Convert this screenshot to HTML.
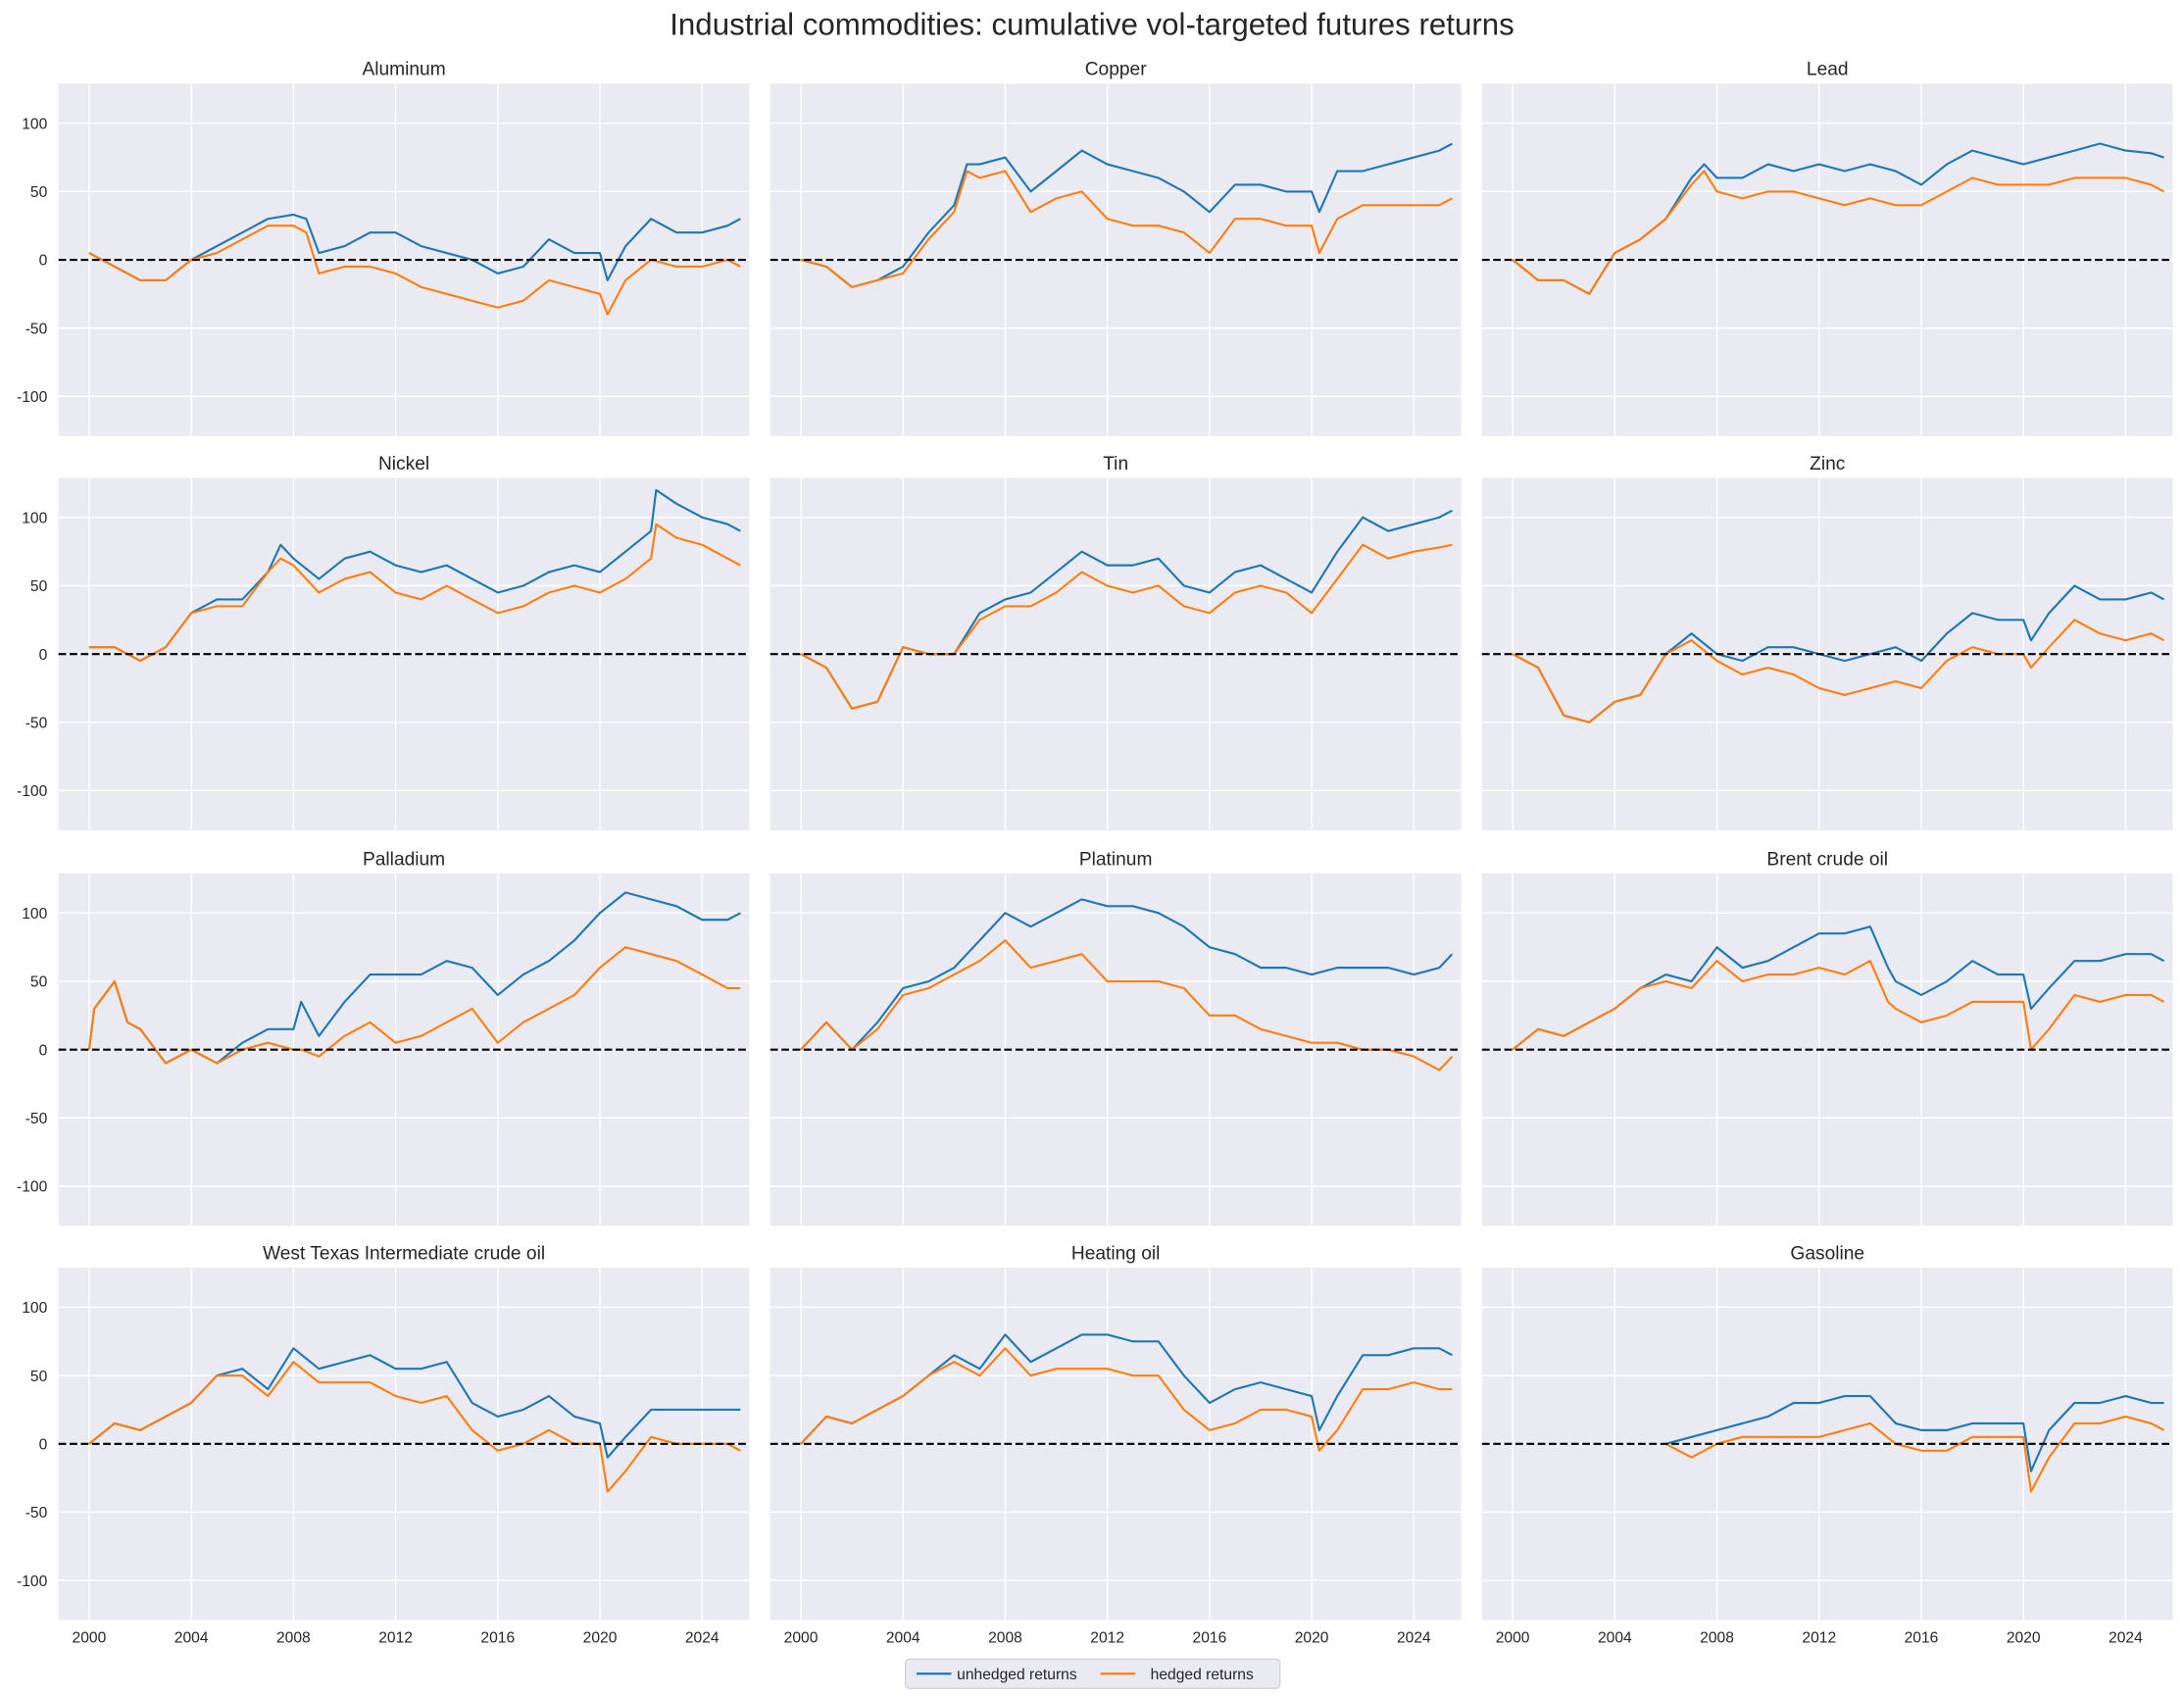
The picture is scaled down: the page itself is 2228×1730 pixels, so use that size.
<!DOCTYPE html>
<html><head><meta charset="utf-8"><style>
html,body{margin:0;padding:0;background:#fff;}
svg{display:block;font-family:"Liberation Sans",Arial,sans-serif;}
</style></head><body>
<svg id="chart" width="2228" height="1730" viewBox="0 0 1568 1217.5" xmlns="http://www.w3.org/2000/svg">
<text x="784" y="25" text-anchor="middle" font-size="22" fill="#262626">Industrial commodities: cumulative vol-targeted futures returns</text>
<g id="panels"></g>
<g>
<rect x="650" y="1191" width="269" height="21" rx="3" fill="#eaeaf2" stroke="#cccccc" stroke-width="0.8"/>
<line x1="658" y1="1201.5" x2="683" y2="1201.5" stroke="#1f77b4" stroke-width="1.5"/>
<text x="687" y="1205.5" font-size="11" fill="#262626">unhedged returns</text>
<line x1="790" y1="1201.5" x2="815" y2="1201.5" stroke="#ff7f0e" stroke-width="1.5"/>
<text x="826" y="1205.5" font-size="11" fill="#262626">hedged returns</text>
</g>
</svg>
<script>
const titles = ["Aluminum","Copper","Lead","Nickel","Tin","Zinc","Palladium","Platinum","Brent crude oil","West Texas Intermediate crude oil","Heating oil","Gasoline"];
const yearsAl = [2000,2001,2002,2003,2004,2005,2006,2007,2008,2008.5,2009,2010,2011,2012,2013,2014,2015,2016,2017,2018,2019,2020,2020.3,2021,2022,2023,2024,2025,2025.5];
const unhAl = [5,-5,-15,-15,0,10,20,30,33,30,5,10,20,20,10,5,0,-10,-5,15,5,5,-15,10,30,20,20,25,30];
const hedAl = [5,-5,-15,-15,0,5,15,25,25,20,-10,-5,-5,-10,-20,-25,-30,-35,-30,-15,-20,-25,-40,-15,0,-5,-5,0,-5];
const yearsCu = [2000,2001,2002,2003,2004,2005,2006,2006.5,2007,2008,2009,2010,2011,2012,2013,2014,2015,2016,2017,2018,2019,2020,2020.3,2021,2022,2023,2024,2025,2025.5];
const unhCu = [0,-5,-20,-15,-5,20,40,70,70,75,50,65,80,70,65,60,50,35,55,55,50,50,35,65,65,70,75,80,85];
const hedCu = [0,-5,-20,-15,-10,15,35,65,60,65,35,45,50,30,25,25,20,5,30,30,25,25,5,30,40,40,40,40,45];
const yearsPb = [2000,2001,2002,2003,2004,2005,2006,2007,2007.5,2008,2009,2010,2011,2012,2013,2014,2015,2016,2017,2018,2019,2020,2021,2022,2023,2024,2025,2025.5];
const unhPb = [0,-15,-15,-25,5,15,30,60,70,60,60,70,65,70,65,70,65,55,70,80,75,70,75,80,85,80,78,75];
const hedPb = [0,-15,-15,-25,5,15,30,55,65,50,45,50,50,45,40,45,40,40,50,60,55,55,55,60,60,60,55,50];
const yearsNi = [2000,2001,2002,2003,2004,2005,2006,2007,2007.5,2008,2009,2010,2011,2012,2013,2014,2015,2016,2017,2018,2019,2020,2021,2022,2022.2,2023,2024,2025,2025.5];
const unhNi = [5,5,-5,5,30,40,40,60,80,70,55,70,75,65,60,65,55,45,50,60,65,60,75,90,120,110,100,95,90];
const hedNi = [5,5,-5,5,30,35,35,60,70,65,45,55,60,45,40,50,40,30,35,45,50,45,55,70,95,85,80,70,65];
const yearsSn = [2000,2001,2002,2003,2004,2005,2006,2007,2008,2009,2010,2011,2012,2013,2014,2015,2016,2017,2018,2019,2020,2021,2022,2023,2024,2025,2025.5];
const unhSn = [0,-10,-40,-35,5,0,0,30,40,45,60,75,65,65,70,50,45,60,65,55,45,75,100,90,95,100,105];
const hedSn = [0,-10,-40,-35,5,0,0,25,35,35,45,60,50,45,50,35,30,45,50,45,30,55,80,70,75,78,80];
const yearsZn = [2000,2001,2002,2003,2004,2005,2006,2007,2008,2009,2010,2011,2012,2013,2014,2015,2016,2017,2018,2019,2020,2020.3,2021,2022,2023,2024,2025,2025.5];
const unhZn = [0,-10,-45,-50,-35,-30,0,15,0,-5,5,5,0,-5,0,5,-5,15,30,25,25,10,30,50,40,40,45,40];
const hedZn = [0,-10,-45,-50,-35,-30,0,10,-5,-15,-10,-15,-25,-30,-25,-20,-25,-5,5,0,0,-10,5,25,15,10,15,10];
const yearsPd = [2000,2000.2,2001,2001.5,2002,2003,2004,2005,2006,2007,2008,2008.3,2009,2010,2011,2012,2013,2014,2015,2016,2017,2018,2019,2020,2021,2022,2023,2024,2025,2025.5];
const unhPd = [0,30,50,20,15,-10,0,-10,5,15,15,35,10,35,55,55,55,65,60,40,55,65,80,100,115,110,105,95,95,100];
const hedPd = [0,30,50,20,15,-10,0,-10,0,5,0,0,-5,10,20,5,10,20,30,5,20,30,40,60,75,70,65,55,45,45];
const yearsPt = [2000,2001,2002,2003,2004,2005,2006,2007,2008,2009,2010,2011,2012,2013,2014,2015,2016,2017,2018,2019,2020,2021,2022,2023,2024,2025,2025.5];
const unhPt = [0,20,0,20,45,50,60,80,100,90,100,110,105,105,100,90,75,70,60,60,55,60,60,60,55,60,70];
const hedPt = [0,20,0,15,40,45,55,65,80,60,65,70,50,50,50,45,25,25,15,10,5,5,0,0,-5,-15,-5];
const yearsBr = [2000,2001,2002,2003,2004,2005,2006,2007,2008,2009,2010,2011,2012,2013,2014,2014.7,2015,2016,2017,2018,2019,2020,2020.3,2021,2022,2023,2024,2025,2025.5];
const unhBr = [0,15,10,20,30,45,55,50,75,60,65,75,85,85,90,60,50,40,50,65,55,55,30,45,65,65,70,70,65];
const hedBr = [0,15,10,20,30,45,50,45,65,50,55,55,60,55,65,35,30,20,25,35,35,35,0,15,40,35,40,40,35];
const yearsWti = [2000,2001,2002,2003,2004,2005,2006,2007,2008,2009,2010,2011,2012,2013,2014,2015,2016,2017,2018,2019,2020,2020.3,2021,2022,2023,2024,2025,2025.5];
const unhWti = [0,15,10,20,30,50,55,40,70,55,60,65,55,55,60,30,20,25,35,20,15,-10,5,25,25,25,25,25];
const hedWti = [0,15,10,20,30,50,50,35,60,45,45,45,35,30,35,10,-5,0,10,0,0,-35,-20,5,0,0,0,-5];
const yearsHo = [2000,2001,2002,2003,2004,2005,2006,2007,2008,2009,2010,2011,2012,2013,2014,2015,2016,2017,2018,2019,2020,2020.3,2021,2022,2023,2024,2025,2025.5];
const unhHo = [0,20,15,25,35,50,65,55,80,60,70,80,80,75,75,50,30,40,45,40,35,10,35,65,65,70,70,65];
const hedHo = [0,20,15,25,35,50,60,50,70,50,55,55,55,50,50,25,10,15,25,25,20,-5,10,40,40,45,40,40];
const yearsGs = [2006,2007,2008,2009,2010,2011,2012,2013,2014,2015,2016,2017,2018,2019,2020,2020.3,2021,2022,2023,2024,2025,2025.5];
const unhGs = [0,5,10,15,20,30,30,35,35,15,10,10,15,15,15,-20,10,30,30,35,30,30];
const hedGs = [0,-10,0,5,5,5,5,10,15,0,-5,-5,5,5,5,-35,-10,15,15,20,15,10];
const yTicks = [-100,-50,0,50,100];
const xTicks = [2000,2004,2008,2012,2016,2020,2024];

const panelYears = [yearsAl,yearsCu,yearsPb,yearsNi,yearsSn,yearsZn,yearsPd,yearsPt,yearsBr,yearsWti,yearsHo,yearsGs];
const panelUnh = [unhAl,unhCu,unhPb,unhNi,unhSn,unhZn,unhPd,unhPt,unhBr,unhWti,unhHo,unhGs];
const panelHed = [hedAl,hedCu,hedPb,hedNi,hedSn,hedZn,hedPd,hedPt,hedBr,hedWti,hedHo,hedGs];

const NS = "http://www.w3.org/2000/svg";
const colL = [42,553,1064], rowT = [60,343,627,910], PW = 496, PH = 253;
const X0 = 1998.8, X1 = 2025.85, Y0 = -129, Y1 = 129;
function mk(tag, attrs, parent){const e=document.createElementNS(NS,tag);for(const k in attrs)e.setAttribute(k,attrs[k]);parent.appendChild(e);return e;}
const root = document.getElementById('panels');
for(let i=0;i<12;i++){
  const c=i%3, r=Math.floor(i/3), L=colL[c], T=rowT[r];
  const xs = v => L + (v-X0)/(X1-X0)*PW;
  const ys = v => T + (Y1-v)/(Y1-Y0)*PH;
  const g = mk('g',{},root);
  
  
  const bg = mk('rect',{x:L,y:T,width:PW,height:PH,fill:'#eaeaf2'},g);
  
  
  yTicks.forEach(t=>{
    const gl = mk('line',{x1:L,x2:L+PW,y1:ys(t),y2:ys(t),stroke:'#fff','stroke-width':1},g);
    
    
    if(c===0){
      const tl = mk('text',{x:L-8,y:ys(t)+4,'text-anchor':'end','font-size':11,fill:'#262626'},g);
      tl.textContent = t;
      
      
    }
  });
  xTicks.forEach(t=>{
    const gl = mk('line',{x1:xs(t),x2:xs(t),y1:T,y2:T+PH,stroke:'#fff','stroke-width':1},g);
    
    
    if(r===3){
      const tl = mk('text',{x:xs(t),y:T+PH+16,'text-anchor':'middle','font-size':11,fill:'#262626'},g);
      tl.textContent = t;
      
      
    }
  });
  const tt = mk('text',{x:L+PW/2,y:T-6,'text-anchor':'middle','font-size':13.5,fill:'#262626'},g);
  tt.textContent = titles[i];
  
  
  const yrs = panelYears[i];
  [[panelUnh[i],'#1f77b4','unhedged-line'],[panelHed[i],'#ff7f0e','hedged-line']].forEach(([vals,col,nm])=>{
    const d = vals.map((v,j)=>(j?'L':'M')+xs(yrs[j]).toFixed(1)+','+ys(v).toFixed(1)).join('');
    const p = mk('path',{d:d,fill:'none',stroke:col,'stroke-width':1.5,'stroke-linejoin':'round'},g);
    
    
  });
  const z = mk('line',{x1:L,x2:L+PW,y1:ys(0),y2:ys(0),stroke:'#000','stroke-width':1.5,'stroke-dasharray':'5.5,2.5'},g);
  
  
}
</script>
</body></html>
